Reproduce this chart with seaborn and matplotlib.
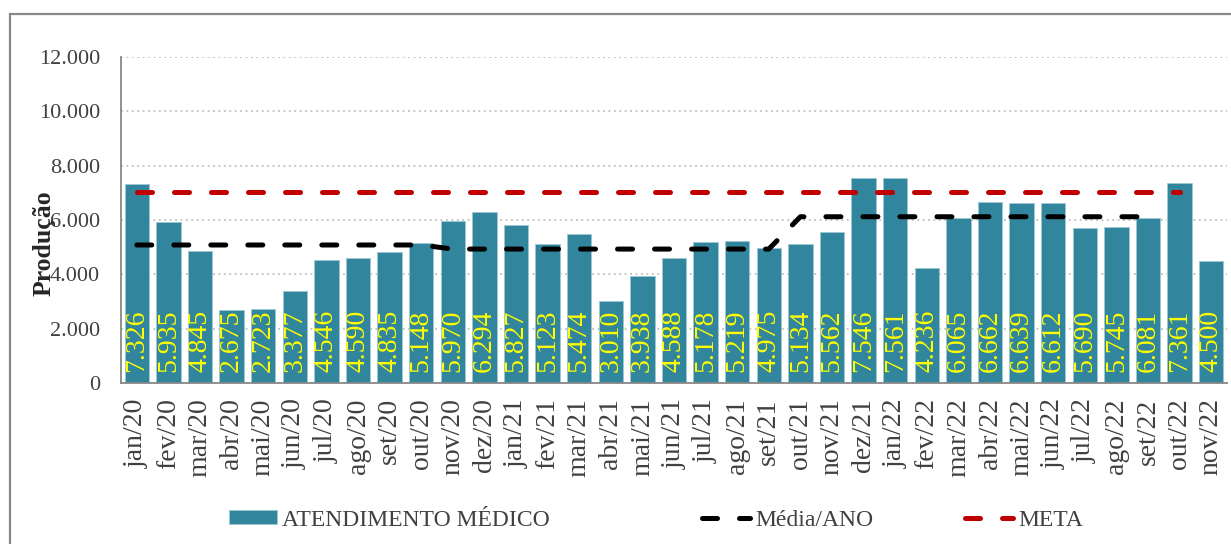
import numpy as np
import pandas as pd
import matplotlib.pyplot as plt
import seaborn as sns
from matplotlib.patches import Rectangle

# Data
meses = ['jan/20', 'fev/20', 'mar/20', 'abr/20', 'mai/20', 'jun/20', 'jul/20', 'ago/20',
         'set/20', 'out/20', 'nov/20', 'dez/20', 'jan/21', 'fev/21', 'mar/21', 'abr/21',
         'mai/21', 'jun/21', 'jul/21', 'ago/21', 'set/21', 'out/21', 'nov/21', 'dez/21',
         'jan/22', 'fev/22', 'mar/22', 'abr/22', 'mai/22', 'jun/22', 'jul/22', 'ago/22',
         'set/22', 'out/22', 'nov/22']
atendimento = [7326, 5935, 4845, 2675, 2723, 3377, 4546, 4590, 4835, 5148, 5970, 6294,
               5827, 5123, 5474, 3010, 3938, 4588, 5178, 5219, 4975, 5134, 5562, 7546,
               7561, 4236, 6065, 6662, 6639, 6612, 5690, 5745, 6081, 7361, 4500]
media_ano = [5080] * 10 + [4930] * 11 + [6120] * 12 + [np.nan] * 2
meta = [7040] * 34 + [np.nan]

df = pd.DataFrame({'mes': meses, 'valor': atendimento})

sns.set_style('white')
plt.rcParams['font.family'] = ['Liberation Serif', 'DejaVu Serif']

fig = plt.figure(figsize=(12.31, 5.44), dpi=100)
ax = fig.add_axes([121 / 1231, 1 - 383 / 544, (1227 - 121) / 1231, (383 - 57) / 544])

bar_color = '#31859C'
sns.barplot(data=df, x='mes', y='valor', color=bar_color, width=0.77,
            edgecolor='#9CC8D4', linewidth=0.6, saturation=1, ax=ax,
            label='ATENDIMENTO MÉDICO')

x = np.arange(len(meses))
ax.plot(x, media_ano, color='black', lw=3.6, dashes=(3.0, 4.4),
        dash_capstyle='round', label='Média/ANO')
ax.plot(x, meta, color='#C00000', lw=3.6, dashes=(3.0, 4.4),
        dash_capstyle='round', label='META')

# value labels inside bars
for i, v in enumerate(atendimento):
    ax.text(i, 420, f'{v:,}'.replace(',', '.'), rotation=90, ha='center', va='bottom',
            color='#FFFF00', fontsize=20)

ax.set_xlim(-0.5, len(meses) - 0.5)
ax.set_ylim(0, 12000)
yt = np.arange(0, 12001, 2000)
ax.set_yticks(yt)
ax.set_yticklabels([f'{t:,}'.replace(',', '.') for t in yt], fontsize=16, color='#404040')
ax.set_xticks(x)
ax.set_xticklabels(meses, rotation=90, fontsize=20, color='#404040')
ax.set_xticks(np.arange(-0.5, len(meses)), minor=True)
ax.tick_params(axis='x', which='major', length=0, pad=11)
ax.tick_params(axis='x', which='minor', length=6, color='#888888', width=1.2, direction='out')
ax.tick_params(axis='y', length=6, color='#888888', width=1.2, direction='out', pad=9)

ax.yaxis.grid(True, color='#BFBFBF', linestyle=(0, (1, 2)), linewidth=1.3)
ax.set_axisbelow(True)
for s in ['top', 'right']:
    ax.spines[s].set_visible(False)
for s in ['left', 'bottom']:
    ax.spines[s].set_color('#888888')
    ax.spines[s].set_linewidth(1.3)

ax.set_xlabel('')
ax.set_ylabel('Produção', fontsize=18.5, fontweight='bold', color='#262626')
ax.yaxis.set_label_coords(-0.059, 0.43)

# legend: three separate entries placed like the reference
handles, labels = ax.get_legend_handles_labels()
leg_x = {'ATENDIMENTO MÉDICO': 229, 'Média/ANO': 702, 'META': 965}
legends = []
for name, xl in leg_x.items():
    h = handles[labels.index(name)]
    lg = ax.legend([h], [name], loc='center left',
                   bbox_to_anchor=(xl / 1231, 1 - 520 / 544),
                   bbox_transform=fig.transFigure, frameon=False,
                   fontsize=17, handlelength=2.05, handleheight=0.5,
                   handletextpad=0.2, borderpad=0, borderaxespad=0)
    for t in lg.get_texts():
        t.set_color('#404040')
    legends.append(lg)
for lg in legends[:-1]:
    ax.add_artist(lg)

# outer chart border
fig.add_artist(Rectangle((10 / 1231, -0.1), 1.5, (544 - 14) / 544 + 0.1,
                         transform=fig.transFigure, fill=False,
                         edgecolor='#888888', linewidth=1.6, clip_on=False))

fig.savefig('out.png', dpi=100)
